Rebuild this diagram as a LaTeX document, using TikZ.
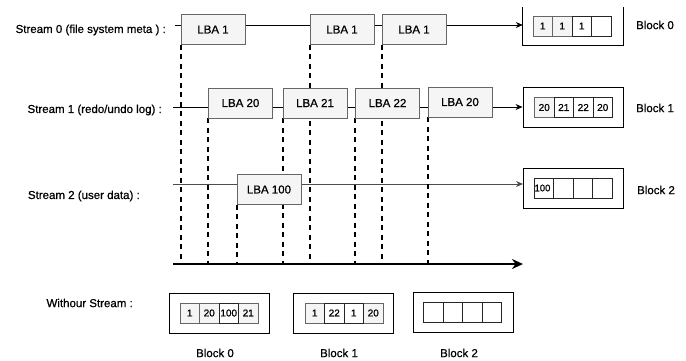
\documentclass[tikz,border=0pt]{standalone}
\usepackage{fontspec}
\setmainfont{Liberation Sans}[BoldFont={Liberation Sans},BoldFeatures={FakeBold=0.7}]
\usetikzlibrary{arrows.meta,backgrounds}
\definecolor{boxfill}{HTML}{F5F5F5}
\definecolor{boxdraw}{HTML}{666666}
\begin{document}
\begin{tikzpicture}[x=1pt,y=-1pt,
  lbabox/.style={draw=boxdraw,fill=boxfill,line width=0.8pt,minimum width=64pt,minimum height=30pt,inner sep=0pt,font=\fontsize{11.5}{13}\selectfont\bfseries},
  lbl/.style={inner sep=0pt,font=\fontsize{11.5}{13}\selectfont\bfseries},
  blockbox/.style={draw=black,line width=0.9pt,minimum width=100pt,minimum height=40pt,inner sep=0pt},
  cellg/.style={draw=boxdraw,fill=boxfill,line width=0.8pt,minimum width=19.5pt,minimum height=20pt,inner sep=0pt,font=\fontsize{10}{12}\selectfont\bfseries},
  cellw/.style={draw=black!85,fill=white,line width=0.9pt,minimum width=19.5pt,minimum height=20pt,inner sep=0pt,font=\fontsize{10}{12}\selectfont\bfseries},
  streamline/.style={line width=0.9pt,-{Stealth[length=7pt,width=6pt]}},
  dropline/.style={line width=1.9pt,dash pattern=on 5pt off 4.5pt},
  axis/.style={line width=2pt,-{Stealth[length=11pt,width=10pt]}}
]
\useasboundingbox (0,0) rectangle (686,360);

% labels
\node[lbl,anchor=east] (lab0) at (166,30) {Stream 0 (file system meta ) :};
\node[lbl,anchor=east] (lab1) at (162,110) {Stream 1 (redo/undo log) :};
\node[lbl,anchor=east] (lab2) at (140,196) {Stream 2 (user data) :};
\node[lbl,anchor=east] (lab3) at (133,303) {Withour Stream :};

% LBA boxes
\node[lbabox] (L01) at (213,29.5) {LBA 1};
\node[lbabox] (L02) at (342,29.5) {LBA 1};
\node[lbabox] (L03) at (414,29.5) {LBA 1};
\node[lbabox] (L11) at (240.5,103) {LBA 20};
\node[lbabox] (L12) at (315,103) {LBA 21};
\node[lbabox] (L13) at (387.5,103) {LBA 22};
\node[lbabox] (L14) at (460,102) {LBA 20};
\node[lbabox] (L21) at (269,189.5) {LBA 100};

% right blocks
\node[minimum width=100pt,minimum height=40pt,inner sep=0pt] (B0) at (573,25) {};
\draw[line width=0.9pt] ([yshift=-2pt]B0.north west) -- (B0.south west) -- (B0.south east) -- ([yshift=-2pt]B0.north east);
\node[blockbox] (B1) at (573,107) {};
\node[blockbox] (B2) at (573.5,188) {};
\node[lbl] (bl0) at (655,25) {Block 0};
\node[lbl] (bl1) at (655,108) {Block 1};
\node[lbl] (bl2) at (656,190) {Block 2};

% cells block 0 (top)
\node[cellg] (t0a) at (542.75,26) {1};
\node[cellg] (t0b) at (562.25,26) {1};
\node[cellw] (t0c) at (581.75,26) {1};
\node[cellw] (t0d) at (601.25,26) {};
% cells block 1 (top)
\node[cellg] (t1a) at (544.25,107.5) {20};
\node[cellw] (t1b) at (563.75,107.5) {21};
\node[cellw] (t1c) at (583.25,107.5) {22};
\node[cellw] (t1d) at (602.75,107.5) {20};
% cells block 2 (top)
\node[cellw] (t2a) at (543.75,188) {};
\node[cellw] (t2b) at (563.25,188) {};
\node[cellw] (t2c) at (582.75,188) {};
\node[cellw] (t2d) at (602.25,188) {};
\node[inner sep=0pt,anchor=west,font=\fontsize{9.5}{11}\selectfont\bfseries] (t2txt) at ([xshift=0.8pt]t2a.west) {100};

% bottom blocks
\node[blockbox] (D0) at (219,313) {};
\node[blockbox] (D1) at (343,313) {};
\node[blockbox] (D2) at (463,312) {};
\node[cellg] (d0a) at (189.75,313) {1};
\node[cellg] (d0b) at (209.25,313) {20};
\node[cellg] (d0d) at (248.25,313) {21};
\node[cellw] (d0c) at (228.75,313) {100};
\node[cellg] (d1a) at (314.75,313) {1};
\node[cellg] (d1d) at (373.25,313) {20};
\node[cellw] (d1b) at (334.25,313) {22};
\node[cellw] (d1c) at (353.75,313) {1};
\node[cellw] (d2a) at (433.25,312) {};
\node[cellw] (d2b) at (452.75,312) {};
\node[cellw] (d2c) at (472.25,312) {};
\node[cellw] (d2d) at (491.75,312) {};
\node[lbl] (db0) at (215,353) {Block 0};
\node[lbl] (db1) at (339,353) {Block 1};
\node[lbl] (db2) at (459,353) {Block 2};

% coordinates
\coordinate (s0) at (175,25);
\coordinate (s1) at (173,107);
\coordinate (s2) at (173,184);
\coordinate (ax0) at (173,264);
\coordinate (ax1) at (523,264);

\begin{pgfonlayer}{background}
\draw[streamline] (s0) -- (B0.west);
\draw[streamline] (s1) -- (B1.west);
\draw[streamline,draw=black!70] (s2) -- (B2.west |- s2);
\foreach \n in {L01,L02,L03,L11,L12,L13,L14,L21}
  \draw[dropline] (\n.south west) -- (\n.south west |- ax0);
\draw[axis] (ax0) -- (ax1);
\end{pgfonlayer}
\end{tikzpicture}
\end{document}
